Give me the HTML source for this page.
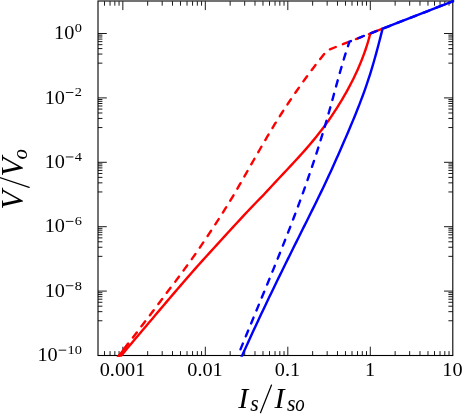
<!DOCTYPE html>
<html><head><meta charset="utf-8"><style>
html,body{margin:0;padding:0;background:#fff;}
body{width:463px;height:416px;overflow:hidden;font-family:"Liberation Serif",serif;}
svg{display:block;will-change:transform;}
</style></head><body>
<svg width="463" height="416" viewBox="0 0 463 416">
<rect width="463" height="416" fill="#fff"/>
<path d="M104.53,355.5 v-4.4 M104.53,1.3 v4.4 M110.05,355.5 v-4.4 M110.05,1.3 v4.4 M114.84,355.5 v-4.4 M114.84,1.3 v4.4 M119.06,355.5 v-4.4 M119.06,1.3 v4.4 M122.83,355.5 v-8.8 M122.83,1.3 v8.8 M147.67,355.5 v-4.4 M147.67,1.3 v4.4 M162.19,355.5 v-4.4 M162.19,1.3 v4.4 M172.50,355.5 v-4.4 M172.50,1.3 v4.4 M180.49,355.5 v-4.4 M180.49,1.3 v4.4 M187.02,355.5 v-4.4 M187.02,1.3 v4.4 M192.55,355.5 v-4.4 M192.55,1.3 v4.4 M197.33,355.5 v-4.4 M197.33,1.3 v4.4 M201.55,355.5 v-4.4 M201.55,1.3 v4.4 M205.32,355.5 v-8.8 M205.32,1.3 v8.8 M230.16,355.5 v-4.4 M230.16,1.3 v4.4 M244.68,355.5 v-4.4 M244.68,1.3 v4.4 M254.99,355.5 v-4.4 M254.99,1.3 v4.4 M262.98,355.5 v-4.4 M262.98,1.3 v4.4 M269.52,355.5 v-4.4 M269.52,1.3 v4.4 M275.04,355.5 v-4.4 M275.04,1.3 v4.4 M279.82,355.5 v-4.4 M279.82,1.3 v4.4 M284.04,355.5 v-4.4 M284.04,1.3 v4.4 M287.82,355.5 v-8.8 M287.82,1.3 v8.8 M312.65,355.5 v-4.4 M312.65,1.3 v4.4 M327.17,355.5 v-4.4 M327.17,1.3 v4.4 M337.48,355.5 v-4.4 M337.48,1.3 v4.4 M345.48,355.5 v-4.4 M345.48,1.3 v4.4 M352.01,355.5 v-4.4 M352.01,1.3 v4.4 M357.53,355.5 v-4.4 M357.53,1.3 v4.4 M362.31,355.5 v-4.4 M362.31,1.3 v4.4 M366.53,355.5 v-4.4 M366.53,1.3 v4.4 M370.31,355.5 v-8.8 M370.31,1.3 v8.8 M395.14,355.5 v-4.4 M395.14,1.3 v4.4 M409.67,355.5 v-4.4 M409.67,1.3 v4.4 M419.97,355.5 v-4.4 M419.97,1.3 v4.4 M427.97,355.5 v-4.4 M427.97,1.3 v4.4 M434.50,355.5 v-4.4 M434.50,1.3 v4.4 M440.02,355.5 v-4.4 M440.02,1.3 v4.4 M444.81,355.5 v-4.4 M444.81,1.3 v4.4 M449.03,355.5 v-4.4 M449.03,1.3 v4.4 M98.0,33.50 h8.8 M452.8,33.50 h-8.8 M98.0,63.15 h4.4 M452.8,63.15 h-4.4 M98.0,54.05 h4.4 M452.8,54.05 h-4.4 M98.0,48.59 h4.4 M452.8,48.59 h-4.4 M98.0,44.67 h4.4 M452.8,44.67 h-4.4 M98.0,41.61 h4.4 M452.8,41.61 h-4.4 M98.0,39.10 h4.4 M452.8,39.10 h-4.4 M98.0,36.97 h4.4 M452.8,36.97 h-4.4 M98.0,35.13 h4.4 M452.8,35.13 h-4.4 M98.0,97.90 h8.8 M452.8,97.90 h-8.8 M98.0,127.55 h4.4 M452.8,127.55 h-4.4 M98.0,118.45 h4.4 M452.8,118.45 h-4.4 M98.0,112.99 h4.4 M452.8,112.99 h-4.4 M98.0,109.07 h4.4 M452.8,109.07 h-4.4 M98.0,106.01 h4.4 M452.8,106.01 h-4.4 M98.0,103.50 h4.4 M452.8,103.50 h-4.4 M98.0,101.37 h4.4 M452.8,101.37 h-4.4 M98.0,99.53 h4.4 M452.8,99.53 h-4.4 M98.0,162.30 h8.8 M452.8,162.30 h-8.8 M98.0,191.95 h4.4 M452.8,191.95 h-4.4 M98.0,182.85 h4.4 M452.8,182.85 h-4.4 M98.0,177.39 h4.4 M452.8,177.39 h-4.4 M98.0,173.47 h4.4 M452.8,173.47 h-4.4 M98.0,170.41 h4.4 M452.8,170.41 h-4.4 M98.0,167.90 h4.4 M452.8,167.90 h-4.4 M98.0,165.77 h4.4 M452.8,165.77 h-4.4 M98.0,163.93 h4.4 M452.8,163.93 h-4.4 M98.0,226.70 h8.8 M452.8,226.70 h-8.8 M98.0,256.35 h4.4 M452.8,256.35 h-4.4 M98.0,247.25 h4.4 M452.8,247.25 h-4.4 M98.0,241.79 h4.4 M452.8,241.79 h-4.4 M98.0,237.87 h4.4 M452.8,237.87 h-4.4 M98.0,234.81 h4.4 M452.8,234.81 h-4.4 M98.0,232.30 h4.4 M452.8,232.30 h-4.4 M98.0,230.17 h4.4 M452.8,230.17 h-4.4 M98.0,228.33 h4.4 M452.8,228.33 h-4.4 M98.0,291.10 h8.8 M452.8,291.10 h-8.8 M98.0,320.75 h4.4 M452.8,320.75 h-4.4 M98.0,311.65 h4.4 M452.8,311.65 h-4.4 M98.0,306.19 h4.4 M452.8,306.19 h-4.4 M98.0,302.27 h4.4 M452.8,302.27 h-4.4 M98.0,299.21 h4.4 M452.8,299.21 h-4.4 M98.0,296.70 h4.4 M452.8,296.70 h-4.4 M98.0,294.57 h4.4 M452.8,294.57 h-4.4 M98.0,292.73 h4.4 M452.8,292.73 h-4.4" stroke="#000" stroke-width="0.9" fill="none"/>
<rect x="98.0" y="1.0" width="354.8" height="354.5" fill="none" stroke="#000" stroke-width="1.1"/>
<defs><clipPath id="c"><rect x="96.7" y="0.0" width="357.40000000000003" height="356.8"/></clipPath></defs>
<g clip-path="url(#c)" fill="none" stroke-width="2.4" stroke-linejoin="round">
<path d="M115.95,359.70 L118.94,355.78 L121.93,351.87 L124.92,347.95 L127.91,344.04 L130.90,340.12 L133.90,336.20 L136.89,332.29 L139.88,328.37 L142.87,324.45 L145.85,320.54 L148.82,316.62 L151.79,312.71 L154.76,308.79 L157.71,304.87 L160.66,300.96 L163.59,297.04 L166.52,293.13 L169.43,289.21 L172.33,285.29 L175.45,281.38 L178.36,277.46 L181.25,273.55 L184.13,269.63 L186.99,265.71 L189.83,261.80 L192.65,257.88 L195.43,253.96 L198.13,250.05 L200.81,246.13 L203.46,242.22 L206.09,238.30 L208.69,234.38 L211.27,230.47 L213.82,226.55 L216.37,222.64 L218.92,218.72 L221.43,214.80 L223.91,210.89 L226.36,206.97 L228.79,203.06 L231.18,199.14 L233.55,195.22 L235.84,191.31 L238.12,187.39 L240.38,183.47 L242.62,179.56 L244.85,175.64 L247.07,171.73 L249.29,167.81 L251.51,163.89 L253.77,159.98 L256.02,156.06 L258.28,152.15 L260.54,148.23 L262.81,144.31 L265.10,140.40 L267.40,136.48 L269.72,132.57 L272.06,128.65 L274.42,124.73 L276.86,120.82 L279.33,116.90 L281.83,112.98 L284.37,109.07 L286.94,105.15 L289.56,101.24 L292.21,97.32 L294.91,93.40 L297.65,89.49 L300.37,85.57 L303.14,81.66 L305.97,77.74 L308.86,73.82 L311.80,69.91 L314.79,65.99 L317.78,62.08 L320.83,58.16 L323.96,54.24 L327.20,50.33 L382.60,28.70" stroke="#f00" stroke-linecap="round" stroke-dasharray="6.3 7.7" stroke-dashoffset="0.03"/>
<path d="M115.95,359.70 L118.94,355.78 L121.93,351.87 L124.92,347.95 L127.91,344.04" stroke="#f00" stroke-linecap="round"/>
<path d="M117.90,359.70 L121.30,355.57 L124.72,351.44 L128.17,347.31 L131.63,343.18 L135.10,339.05 L138.59,334.93 L142.08,330.80 L145.57,326.67 L149.06,322.54 L152.54,318.41 L156.03,314.28 L159.56,310.15 L163.08,306.02 L166.59,301.89 L170.09,297.76 L173.61,293.63 L177.15,289.51 L180.71,285.38 L184.26,281.25 L187.84,277.12 L191.44,272.99 L195.06,268.86 L198.72,264.73 L202.43,260.60 L206.19,256.47 L209.95,252.34 L213.71,248.21 L217.47,244.08 L221.22,239.96 L224.98,235.83 L228.75,231.70 L232.53,227.57 L236.35,223.44 L240.20,219.31 L244.09,215.18 L247.97,211.05 L251.90,206.92 L255.88,202.79 L259.88,198.66 L263.89,194.54 L267.73,190.41 L271.57,186.28 L275.38,182.15 L279.22,178.02 L283.11,173.89 L287.00,169.76 L290.85,165.63 L294.69,161.50 L298.49,157.37 L302.21,153.24 L305.86,149.12 L309.43,144.99 L312.91,140.86 L316.29,136.73 L319.57,132.60 L322.75,128.47 L325.81,124.34 L328.75,120.21 L331.59,116.08 L334.33,111.95 L336.99,107.82 L339.57,103.69 L342.06,99.57 L344.47,95.44 L346.81,91.31 L349.06,87.18 L351.22,83.05 L353.30,78.92 L355.29,74.79 L357.20,70.66 L359.02,66.53 L360.75,62.40 L362.39,58.27 L363.94,54.15 L365.40,50.02 L366.77,45.89 L368.04,41.76 L369.22,37.63 L370.31,33.50 L382.60,28.70" stroke="#f00"/>
<path d="M239.56,351.65 L241.19,347.62 L242.83,343.59 L244.48,339.57 L246.13,335.54 L247.78,331.51 L249.43,327.49 L251.09,323.46 L252.75,319.43 L254.41,315.41 L256.08,311.38 L257.74,307.35 L259.40,303.32 L261.07,299.30 L262.73,295.27 L264.39,291.24 L266.04,287.22 L267.70,283.19 L269.35,279.16 L271.00,275.14 L272.64,271.11 L274.28,267.08 L275.91,263.06 L277.54,259.03 L279.16,255.00 L280.77,250.98 L282.38,246.95 L283.98,242.92 L285.57,238.90 L287.15,234.87 L288.72,230.84 L290.28,226.82 L291.83,222.79 L293.37,218.76 L294.89,214.74 L296.41,210.71 L297.91,206.68 L299.40,202.66 L300.87,198.63 L302.33,194.60 L303.78,190.57 L305.21,186.55 L306.63,182.52 L308.03,178.49 L309.42,174.47 L310.79,170.44 L312.15,166.41 L313.50,162.39 L314.82,158.36 L316.14,154.33 L317.44,150.31 L318.72,146.28 L319.99,142.25 L321.24,138.23 L322.48,134.20 L323.70,130.17 L324.91,126.15 L326.10,122.12 L327.27,118.09 L328.43,114.07 L329.57,110.04 L330.70,106.01 L331.81,101.99 L332.92,97.96 L334.01,93.93 L335.11,89.90 L336.21,85.88 L337.31,81.85 L338.43,77.82 L339.56,73.80 L340.70,69.77 L341.87,65.74 L343.06,61.72 L344.28,57.69 L345.53,53.66 L346.82,49.64 L348.15,45.61 L349.52,41.58 L456.80,-0.26" stroke="#00f" stroke-linecap="round" stroke-dasharray="6.3 7.7" stroke-dashoffset="11.50"/>
<path d="M240.34,359.70 L242.20,355.51 L244.07,351.32 L245.95,347.13 L247.85,342.94 L249.76,338.75 L251.68,334.56 L253.61,330.37 L255.55,326.18 L257.51,321.99 L259.47,317.80 L261.44,313.61 L263.42,309.42 L265.42,305.23 L267.42,301.04 L269.42,296.85 L271.44,292.66 L273.46,288.47 L275.50,284.28 L277.53,280.09 L279.58,275.90 L281.63,271.71 L283.69,267.52 L285.75,263.33 L287.82,259.14 L289.89,254.95 L291.97,250.76 L294.05,246.57 L296.13,242.38 L298.22,238.19 L300.31,234.00 L302.40,229.81 L304.50,225.62 L306.59,221.44 L308.68,217.25 L310.76,213.06 L312.84,208.87 L314.90,204.68 L316.96,200.49 L319.00,196.30 L321.03,192.11 L323.04,187.92 L325.04,183.73 L327.01,179.54 L328.96,175.35 L330.89,171.16 L332.79,166.97 L334.67,162.78 L336.54,158.59 L338.39,154.40 L340.23,150.21 L342.07,146.02 L343.89,141.83 L345.71,137.64 L347.51,133.45 L349.30,129.26 L351.07,125.07 L352.81,120.88 L354.54,116.69 L356.24,112.50 L357.90,108.31 L359.54,104.12 L361.14,99.93 L362.71,95.74 L364.23,91.55 L365.71,87.36 L367.15,83.17 L368.54,78.98 L369.89,74.79 L371.19,70.60 L372.46,66.41 L373.69,62.22 L374.88,58.03 L376.05,53.84 L377.18,49.65 L378.29,45.46 L379.39,41.27 L380.46,37.08 L381.53,32.89 L382.60,28.70 L456.80,-0.26" stroke="#00f"/>
</g>
<g font-family="Liberation Serif, serif" font-size="19.5" fill="#000">
<text transform="translate(122.53,376) scale(1.04,1)" text-anchor="middle">0.001</text>
<text transform="translate(205.02,376) scale(1.04,1)" text-anchor="middle">0.01</text>
<text transform="translate(287.52,376) scale(1.04,1)" text-anchor="middle">0.1</text>
<text transform="translate(370.01,376) scale(1.04,1)" text-anchor="middle">1</text>
<text transform="translate(452.50,376) scale(1.04,1)" text-anchor="middle">10</text>
<text transform="translate(81.9,31.90) scale(1.15,1)" font-size="12.5" text-anchor="end">0</text>
<text transform="translate(74.31,39.20) scale(1.04,1)" text-anchor="end">10</text>
<text transform="translate(81.9,96.30) scale(1.15,1)" font-size="12.5" text-anchor="end">2</text>
<rect x="65.81" y="92.10" width="7.6" height="0.9"/>
<text transform="translate(64.91,103.60) scale(1.04,1)" text-anchor="end">10</text>
<text transform="translate(81.9,160.70) scale(1.15,1)" font-size="12.5" text-anchor="end">4</text>
<rect x="65.81" y="156.50" width="7.6" height="0.9"/>
<text transform="translate(64.91,168.00) scale(1.04,1)" text-anchor="end">10</text>
<text transform="translate(81.9,225.10) scale(1.15,1)" font-size="12.5" text-anchor="end">6</text>
<rect x="65.81" y="220.90" width="7.6" height="0.9"/>
<text transform="translate(64.91,232.40) scale(1.04,1)" text-anchor="end">10</text>
<text transform="translate(81.9,289.50) scale(1.15,1)" font-size="12.5" text-anchor="end">8</text>
<rect x="65.81" y="285.30" width="7.6" height="0.9"/>
<text transform="translate(64.91,296.80) scale(1.04,1)" text-anchor="end">10</text>
<text transform="translate(81.9,353.90) scale(1.15,1)" font-size="12.5" text-anchor="end">10</text>
<rect x="58.63" y="349.70" width="7.6" height="0.9"/>
<text transform="translate(57.73,361.20) scale(1.04,1)" text-anchor="end">10</text>
</g>
<g font-family="Liberation Serif, serif" font-style="italic" fill="#000">
<text x="238.3" y="407.6" font-size="30">I</text>
<text transform="translate(250.3,411.2) scale(0.95,1)" font-size="23">s</text>
<line x1="260.5" y1="412.7" x2="271.5" y2="385.1" stroke="#000" stroke-width="1.25" stroke-linecap="round"/>
<text x="274.6" y="407.6" font-size="30">I</text>
<text transform="translate(287.0,411.2) scale(0.95,1)" font-size="23">s</text>
<text transform="translate(295.3,411.2) scale(0.82,1)" font-size="23">o</text>
<line x1="29.2" y1="187.3" x2="-0.5" y2="177.4" stroke="#000" stroke-width="1.25" stroke-linecap="round"/>
<g transform="translate(22.8,208.5) rotate(-90)">
<text x="-1" y="0" font-size="31">V</text>
<text x="32" y="0" font-size="31">V</text>
<text x="49" y="4" font-size="21">o</text>
</g></g>
</svg>
</body></html>
